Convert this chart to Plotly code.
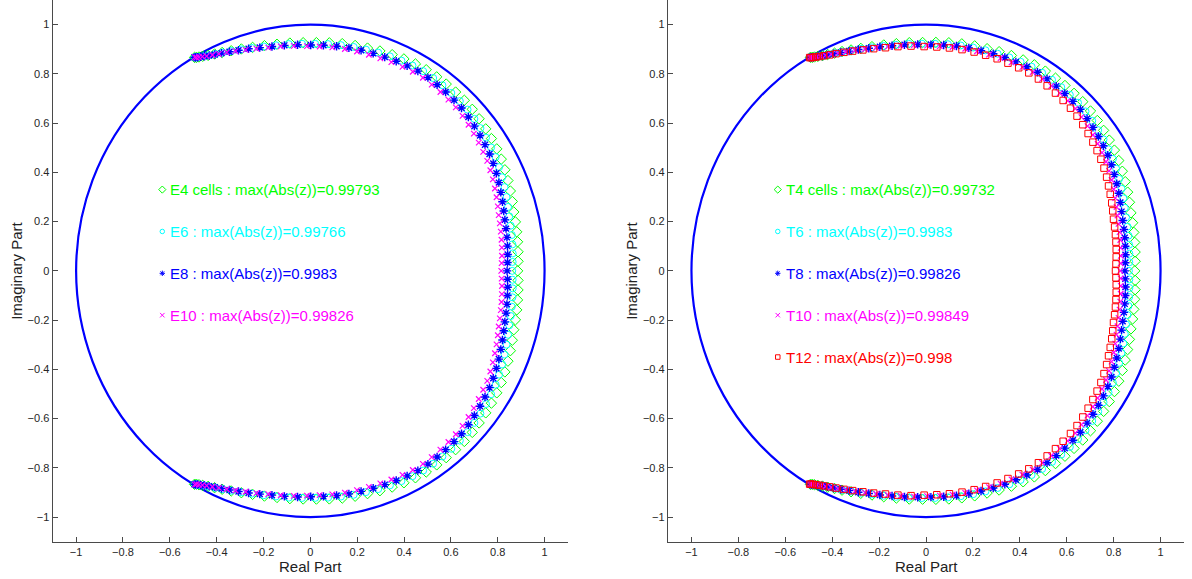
import numpy as np
import plotly.graph_objects as go

# ---------------- data (upper half-plane eigenvalues: arg in degrees, modulus) ----------------
# lower half of each spectrum is the complex conjugate of the upper half (real spectrum)
E4_arg = [0, 2.5, 5.0, 7.6, 10.2, 12.8, 15.4, 18.1, 20.8, 23.5, 26.3, 29.1, 31.9, 34.8, 37.6, 40.6, 43.5, 46.5, 49.5, 52.6, 55.6, 58.8, 61.9, 65.1, 68.3, 71.6, 74.9, 78.2, 81.6, 85.0, 88.4, 91.9, 95.4, 98.8, 102.1, 105.2, 108.1, 110.7, 113.0, 114.9, 116.5, 117.8, 118.7, 119.3, 119.7]
E4_abs = [.885, .8875, .890, .8926, .8952, .8978, .9009, .9072, .9135, .9198, .9264, .9329, .9375, .9414, .9451, .9491, .953, .955, .955, .955, .955, .955, .9527, .9489, .945, .9411, .9371, .9351, .9328, .9297, .9272, .9271, .9292, .9313, .9354, .9405, .948, .9555, .9635, .9709, .9778, .9852, .9902, .9938, .9979]

E6_arg = [0, 2.4, 4.7, 7.1, 9.6, 12.1, 14.6, 17.1, 19.7, 22.3, 24.9, 27.6, 30.3, 33.0, 35.8, 38.6, 41.4, 44.3, 47.2, 50.2, 53.2, 56.2, 59.3, 62.4, 65.5, 68.7, 71.9, 75.2, 78.5, 81.9, 85.3, 88.7, 92.2, 95.7, 99.1, 102.3, 105.4, 108.2, 110.7, 112.9, 114.7, 116.3, 117.5, 118.5, 119.1, 119.6]
E6_abs = [.862, .8645, .867, .8695, .8722, .8748, .8777, .8832, .8897, .8962, .9027, .9094, .9163, .9202, .9246, .929, .9334, .9378, .9394, .9403, .9413, .9424, .9433, .941, .9381, .9351, .9324, .9294, .928, .926, .9241, .9222, .923, .9255, .9279, .9326, .9387, .9467, .9544, .9625, .9695, .9766, .9831, .9891, .9926, .9977]

E8_arg = [0, 2.3, 4.5, 6.8, 9.2, 11.6, 14.0, 16.4, 18.9, 21.4, 24.0, 26.5, 29.2, 31.8, 34.5, 37.2, 40.0, 42.8, 45.7, 48.5, 51.5, 54.4, 57.4, 60.5, 63.6, 66.7, 69.9, 73.1, 76.4, 79.7, 83.0, 86.5, 89.9, 93.4, 96.9, 100.2, 103.4, 106.3, 108.9, 111.2, 113.2, 114.9, 116.3, 117.4, 118.3, 119.0, 119.4, 119.7]
E8_abs = [.840, .8425, .845, .8475, .8503, .853, .8558, .8607, .867, .8734, .8809, .8876, .8945, .9001, .9048, .9095, .9142, .9195, .9241, .9258, .9278, .9297, .9317, .9322, .9295, .9268, .9244, .923, .9215, .9206, .9191, .9177, .9171, .9199, .9225, .9256, .9321, .9397, .9469, .9545, .9621, .9685, .9751, .9819, .9874, .992, .996, .9983]

E10_arg = [0, 2.2, 4.3, 6.6, 8.8, 11.1, 13.4, 15.7, 18.1, 20.6, 23.0, 25.5, 28.0, 30.6, 33.2, 35.9, 38.6, 41.3, 44.1, 46.9, 49.7, 52.6, 55.6, 58.5, 61.6, 64.6, 67.8, 70.9, 74.1, 77.4, 80.7, 84.1, 87.5, 90.9, 94.4, 97.9, 101.2, 104.3, 107.1, 109.7, 111.9, 113.9, 115.5, 116.9, 117.9, 118.7, 119.3, 119.6]
E10_abs = [.815, .8173, .8203, .8231, .8259, .8287, .8317, .8353, .8421, .8493, .8562, .8633, .8703, .8775, .8819, .8876, .8933, .899, .9048, .9089, .9115, .9142, .917, .9196, .9194, .9171, .9153, .9133, .9124, .9127, .9129, .9125, .9119, .9127, .9165, .9201, .9241, .9314, .9387, .9476, .9561, .9641, .9714, .9782, .9845, .9897, .9935, .9983]

T4_arg = [0, 2.5, 4.9, 7.4, 10.0, 12.5, 15.1, 17.8, 20.4, 23.1, 25.8, 28.6, 31.4, 34.2, 37.0, 39.9, 42.8, 45.8, 48.8, 51.8, 54.8, 57.9, 61.1, 64.2, 67.4, 70.7, 73.9, 77.2, 80.6, 84.0, 87.4, 90.9, 94.4, 97.8, 101.1, 104.2, 107.1, 109.6, 111.9, 113.8, 115.5, 116.8, 117.9, 118.7, 119.2, 119.6]
T4_abs = [.890, .8925, .8948, .8973, .8998, .9023, .9049, .9112, .9172, .9234, .9296, .936, .9411, .9446, .9482, .9519, .9557, .9584, .9582, .958, .9578, .9576, .9559, .9516, .9473, .9432, .9392, .9371, .9345, .9316, .9288, .9275, .9295, .9314, .9349, .9392, .9453, .9523, .9599, .9661, .9735, .9791, .9856, .9902, .9932, .9973]

T6_arg = [0, 2.3, 4.6, 7.0, 9.4, 11.8, 14.3, 16.8, 19.3, 21.8, 24.4, 27.1, 29.7, 32.4, 35.2, 37.9, 40.7, 43.6, 46.5, 49.4, 52.3, 55.3, 58.4, 61.5, 64.6, 67.7, 70.9, 74.2, 77.5, 80.8, 84.2, 87.6, 91.1, 94.6, 98.0, 101.2, 104.3, 107.1, 109.6, 111.8, 113.7, 115.3, 116.6, 117.6, 118.4, 119.0, 119.4, 119.7]
T6_abs = [.865, .8675, .8699, .8725, .875, .8776, .8802, .8854, .8915, .8978, .9042, .9108, .9173, .9217, .9262, .9303, .9347, .939, .9414, .9421, .9429, .9437, .9446, .9435, .9401, .9368, .9333, .9311, .929, .9272, .9251, .923, .9228, .9251, .927, .9313, .9368, .9432, .9509, .9585, .9653, .9719, .9781, .9836, .9884, .992, .995, .9983]

T8_arg = [0, 2.2, 4.4, 6.7, 9.0, 11.3, 13.7, 16.1, 18.5, 21.0, 23.5, 26.0, 28.6, 31.2, 33.9, 36.6, 39.3, 42.0, 44.9, 47.7, 50.6, 53.5, 56.5, 59.5, 62.6, 65.7, 68.8, 72.0, 75.3, 78.6, 81.9, 85.3, 88.7, 92.2, 95.7, 99.0, 102.2, 105.1, 107.8, 110.2, 112.3, 114.1, 115.6, 116.8, 117.8, 118.5, 119.0, 119.4, 119.7]
T8_abs = [.848, .8503, .8528, .8553, .8578, .8604, .863, .8677, .8738, .8803, .8869, .8936, .9004, .906, .9106, .9152, .9198, .924, .929, .9304, .9319, .9334, .9349, .9364, .934, .9311, .9293, .9274, .9246, .9237, .9221, .9206, .9192, .9203, .9231, .9259, .9311, .9365, .9442, .951, .9589, .9658, .9726, .9779, .9847, .989, .992, .9956, .9983]

T10_arg = [0, 2.1, 4.2, 6.4, 8.6, 10.8, 13.1, 15.4, 17.7, 20.1, 22.5, 25.0, 27.5, 30.0, 32.6, 35.2, 37.8, 40.5, 43.3, 46.0, 48.8, 51.7, 54.6, 57.6, 60.6, 63.6, 66.7, 69.8, 73.0, 76.3, 79.5, 82.9, 86.3, 89.7, 93.2, 96.7, 100.1, 103.2, 106.1, 108.7, 111.0, 113.0, 114.7, 116.1, 117.3, 118.2, 118.8, 119.3, 119.7]
T10_abs = [.828, .8305, .8327, .8353, .8377, .8402, .8428, .8468, .8527, .8592, .8662, .8729, .8798, .8865, .8907, .8955, .9002, .9054, .9102, .9159, .9175, .9201, .9214, .9237, .9262, .9237, .9217, .9205, .9184, .9178, .9173, .916, .9147, .9146, .918, .9207, .9248, .9307, .9376, .9457, .9531, .9608, .9676, .9744, .9808, .9862, .9907, .9938, .9985]

T12_arg = [0, 2.0, 4.0, 6.1, 8.2, 10.3, 12.5, 14.7, 17.0, 19.2, 21.6, 23.9, 26.3, 28.8, 31.3, 33.8, 36.3, 38.9, 41.6, 44.3, 47.0, 49.8, 52.6, 55.5, 58.4, 61.4, 64.4, 67.5, 70.6, 73.8, 77.0, 80.3, 83.7, 87.1, 90.5, 94.0, 97.5, 100.8, 103.9, 106.7, 109.3, 111.5, 113.5, 115.1, 116.5, 117.6, 118.4, 119.0, 119.5, 119.8]
T12_abs = [.808, .8105, .813, .8157, .8183, .821, .8237, .8265, .8325, .8385, .8448, .8512, .859, .8661, .8727, .8778, .8828, .8882, .894, .8997, .9032, .906, .9089, .9119, .9149, .9158, .9146, .913, .9132, .912, .9121, .9116, .9108, .9104, .911, .9152, .9186, .9226, .9296, .9368, .9457, .9539, .9619, .9687, .976, .9824, .9876, .9915, .995, .998]

left_labels = ["E4 cells : max(Abs(z))=0.99793", "E6 : max(Abs(z))=0.99766",
               "E8 : max(Abs(z))=0.9983", "E10 : max(Abs(z))=0.99826"]
right_labels = ["T4 cells : max(Abs(z))=0.99732", "T6 : max(Abs(z))=0.9983",
                "T8 : max(Abs(z))=0.99826", "T10 : max(Abs(z))=0.99849",
                "T12 : max(Abs(z))=0.998"]
label_y = [0.33, 0.16, -0.01, -0.18, -0.35]
label_x = -0.632
unit_radius = 1.0
tick_vals = [-1, -0.8, -0.6, -0.4, -0.2, 0, 0.2, 0.4, 0.6, 0.8, 1]
tick_text = ["\u22121", "\u22120.8", "\u22120.6", "\u22120.4", "\u22120.2", "0",
             "0.2", "0.4", "0.6", "0.8", "1"]

# ---------------- styles ----------------
FONT = "Liberation Sans, Arial, Helvetica, sans-serif"
GREEN, CYAN, BLUE, MAG, RED = "#00ff00", "#00ffff", "#0000ff", "#ff00ff", "#ff0000"
STY = {
    "4": dict(symbol="diamond-open", size=8, color=GREEN, lw=1.0),
    "6": dict(symbol="circle-open", size=7, color=CYAN, lw=1.0),
    "8": dict(symbol="asterisk-open", size=7, color=BLUE, lw=1.4),
    "10": dict(symbol="x-thin-open", size=5.5, color=MAG, lw=1.2),
    "12": dict(symbol="square-open", size=6.5, color=RED, lw=1.0),
}


def spectrum(arg, mod):
    a = np.deg2rad(np.asarray(arg, dtype=float))
    m = np.asarray(mod, dtype=float)
    xu, yu = m * np.cos(a), m * np.sin(a)
    x = np.concatenate([xu[::-1], xu[1:]])
    y = np.concatenate([-yu[::-1], yu[1:]])
    return x, y


fig = go.Figure()

left = [("4", E4_arg, E4_abs), ("6", E6_arg, E6_abs), ("8", E8_arg, E8_abs), ("10", E10_arg, E10_abs)]
right = [("4", T4_arg, T4_abs), ("6", T6_arg, T6_abs), ("8", T8_arg, T8_abs),
         ("10", T10_arg, T10_abs), ("12", T12_arg, T12_abs)]

for panel, series, labels, xa, ya in [(0, left, left_labels, "x", "y"),
                                      (1, right, right_labels, "x2", "y2")]:
    for i, (key, arg, mod) in enumerate(series):
        s = STY[key]
        x, y = spectrum(arg, mod)
        fig.add_trace(go.Scatter(x=x, y=y, mode="markers", xaxis=xa, yaxis=ya,
                                 marker=dict(symbol=s["symbol"], size=s["size"], color=s["color"],
                                             line=dict(color=s["color"], width=s["lw"])),
                                 hoverinfo="skip"))
    for i, (key, arg, mod) in enumerate(series):
        s = STY[key]
        fig.add_trace(go.Scatter(x=[label_x], y=[label_y[i]], mode="markers", xaxis=xa, yaxis=ya,
                                 marker=dict(symbol=s["symbol"], size=max(4.5, s["size"] - 2.5),
                                             color=s["color"],
                                             line=dict(color=s["color"], width=1.0)),
                                 hoverinfo="skip"))
        fig.add_annotation(x=label_x, y=label_y[i], xref=xa, yref=ya, text=labels[i],
                           xanchor="left", yanchor="middle", xshift=6, showarrow=False,
                           font=dict(family=FONT, size=15, color=s["color"]))
    fig.add_shape(type="circle", xref=xa, yref=ya, x0=-unit_radius, y0=-unit_radius,
                  x1=unit_radius, y1=unit_radius, line=dict(color=BLUE, width=2.2), layer="below")
    fig.add_annotation(x=0, y=(579 - 566) / 579, xref=xa, yref="paper", text="Real Part",
                       showarrow=False, xanchor="center", yanchor="middle",
                       font=dict(family=FONT, size=15, color="#222"))
    fig.add_annotation(x=[17 / 1192, 632 / 1192][panel], y=0, xref="paper", yref=ya,
                       text="Imaginary Part", textangle=-90, showarrow=False,
                       xanchor="center", yanchor="middle",
                       font=dict(family=FONT, size=15, color="#222"))

axis_common = dict(range=[-1.1, 1.1], showline=True, linecolor="#4a4a4a", linewidth=1.3,
                   ticks="inside", ticklen=5, tickwidth=1, tickcolor="#4a4a4a",
                   tickvals=tick_vals, ticktext=tick_text, showgrid=False, zeroline=False,
                   mirror=False, automargin=False,
                   tickfont=dict(family=FONT, size=11, color="#262626"))

fig.update_layout(
    width=1192, height=579, margin=dict(l=0, r=0, t=0, b=0),
    paper_bgcolor="white", plot_bgcolor="white", showlegend=False,
    xaxis=dict(domain=[0.0442, 0.4765], anchor="y", **axis_common),
    yaxis=dict(domain=[0.0644, 1.0], anchor="x", **axis_common),
    xaxis2=dict(domain=[0.5604, 0.9933], anchor="y2", **axis_common),
    yaxis2=dict(domain=[0.0644, 1.0], anchor="x2", **axis_common),
)

fig.write_html("out.html", config={"displayModeBar": False},
               post_script="document.body.style.margin='0';document.body.style.overflow='hidden';")
